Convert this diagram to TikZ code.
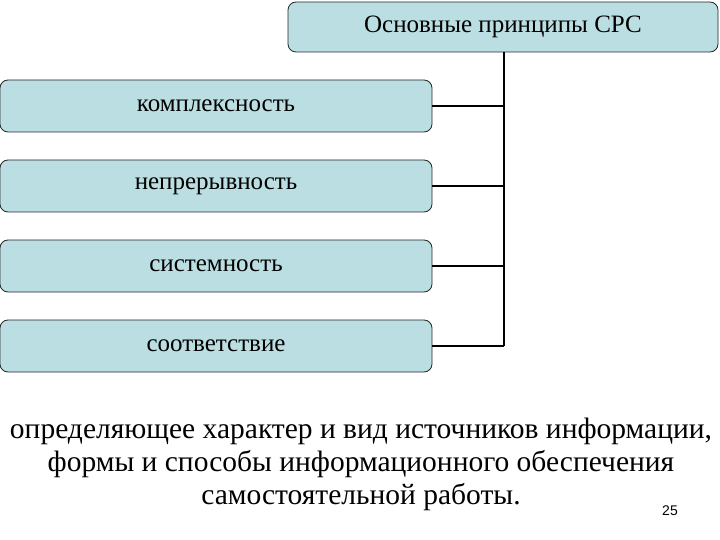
\documentclass[tikz,border=0pt]{standalone}
\usepackage{fontspec}
\setmainfont{Liberation Serif}
\newfontfamily\sansf{Liberation Sans}
\definecolor{boxc}{RGB}{186,222,225}
\begin{document}
\begin{tikzpicture}[x=1pt,y=-1pt,
 pbox/.style={draw=black!85,fill=boxc,rounded corners=8pt,line width=0.8pt,minimum width=432pt,minimum height=52pt,inner sep=0pt,font=\fontsize{25}{30}\selectfont},
 conn/.style={line width=1.6pt}]
\useasboundingbox (0,0) rectangle (720,540);
\node[pbox,minimum width=430pt,minimum height=50pt] (top) at (503,27) {Основные принципы СРС};
\node[pbox] (a) at (216,106) {комплексность};
\node[pbox] (b) at (216,186) {непрерывность};
\node[pbox] (c) at (216,266) {системность};
\node[pbox] (d) at (216,346) {соответствие};
\coordinate (j) at (504,346);
\draw[conn] (top.south -| j) -- (j);
\foreach \n in {a,b,c,d} \draw[conn] (\n.east) -- (\n.east -| j);
\node[font=\fontsize{29.5}{33}\selectfont,align=center] (txt) at (361,464) {определяющее характер и вид источников информации,\\формы и способы информационного обеспечения\\самостоятельной работы.};
\node[font=\sansf\fontsize{14}{15}\selectfont] (num) at (670,511) {25};
\end{tikzpicture}
\end{document}
